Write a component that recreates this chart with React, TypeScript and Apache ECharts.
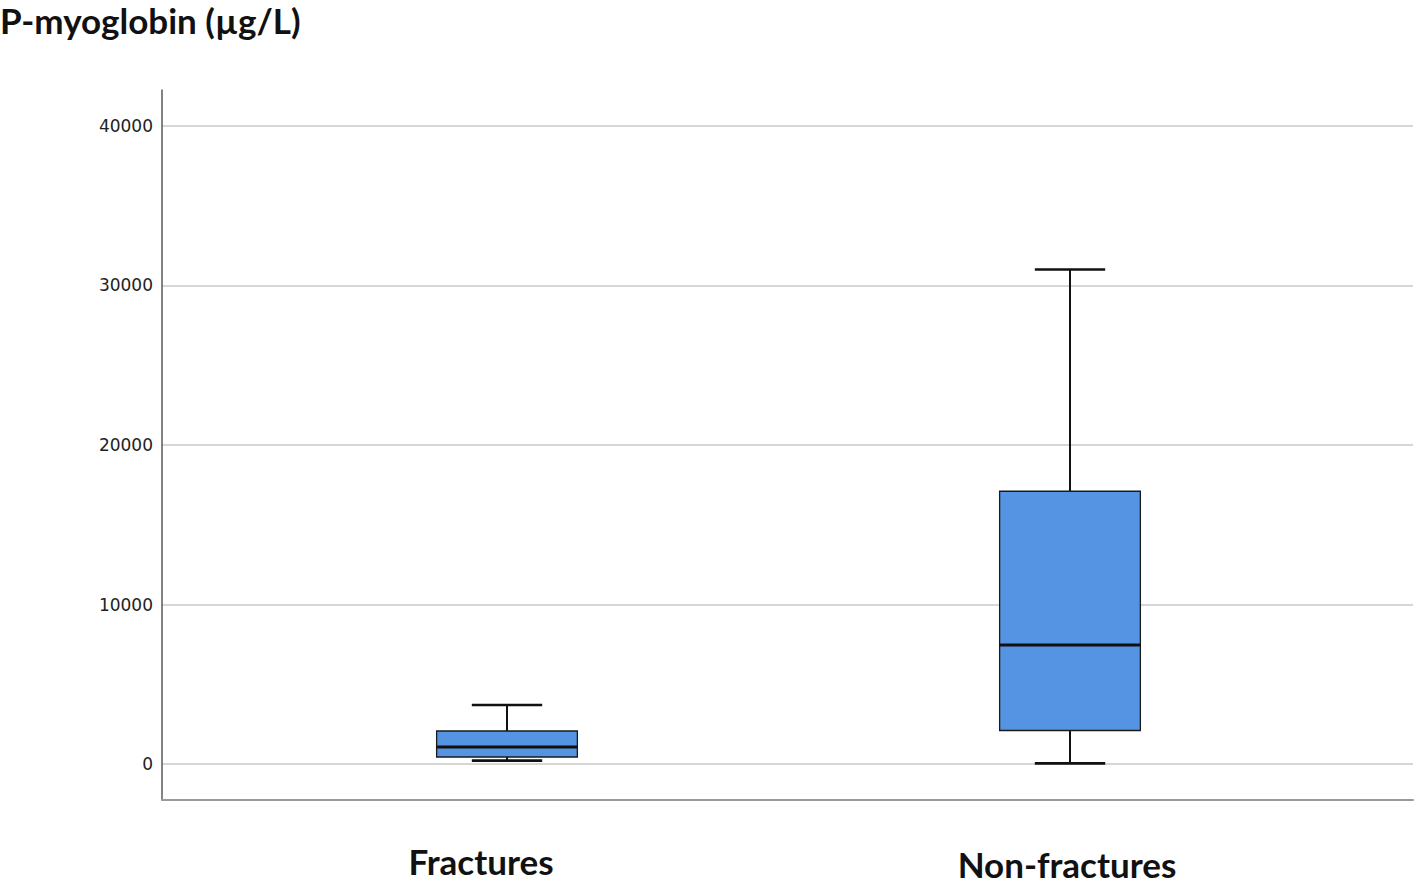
import React, { useEffect, useRef } from "react";
import * as echarts from "echarts";

const categories = ["Fractures", "Non-fractures"];
// [low whisker, Q1, median, Q3, high whisker]
const boxStats = [
  [210, 440, 1060, 2070, 3700],
  [40, 2100, 7460, 17100, 31000],
];
const yTicks = [0, 10000, 20000, 30000, 40000];
const yMin = -2257;
const yMax = 42257;
const titleText = "P-myoglobin (µg/L)";

const BIG_FONT = "Lato, 'Open Sans', sans-serif";

export default function App() {
  const ref = useRef<HTMLDivElement>(null);
  useEffect(() => {
    if (!ref.current) return;
    const chart = echarts.init(ref.current, null, { renderer: "svg" });
    const data = boxStats.map((s, i) => [i, ...s]);
    chart.setOption({
      animation: false,
      backgroundColor: "#ffffff",
      title: {
        text: titleText,
        left: 0,
        top: 2,
        padding: [0, 0, 0, 0],
        textStyle: { fontFamily: BIG_FONT, fontWeight: "bold", fontSize: 35, lineHeight: 36, color: "#111" },
      },
      grid: [
        { left: 162, right: 5, top: 90, bottom: 83, outerBoundsMode: "none", containLabel: false },
        { left: 225.5, right: 66.5, top: 90, bottom: 83, outerBoundsMode: "none", containLabel: false },
      ],
      xAxis: [
        {
          type: "value",
          gridIndex: 0,
          min: 0,
          max: 1,
          axisLine: { show: true, onZero: false, lineStyle: { color: "#9a9a9a", width: 2 } },
          axisTick: { show: false },
          axisLabel: { show: false },
          splitLine: { show: false },
        },
        {
          type: "category",
          gridIndex: 1,
          data: categories,
          axisLine: { show: false, onZero: false },
          axisTick: { show: false },
          splitLine: { show: false },
          axisLabel: {
            margin: 44,
            formatter: (v: string) => (v === categories[0] ? `{a|${v}}` : `{b|${v}}`),
            rich: {
              a: { fontFamily: BIG_FONT, fontWeight: "bold", fontSize: 35, lineHeight: 34, color: "#111", padding: [0, 52, 0, 0] },
              b: { fontFamily: BIG_FONT, fontWeight: "bold", fontSize: 35, lineHeight: 34, color: "#111", padding: [5, 6, 0, 0] },
            },
          },
        },
      ],
      yAxis: [
        {
          type: "value",
          gridIndex: 0,
          min: yMin,
          max: yMax,
          axisLine: { show: true, onZero: false, lineStyle: { color: "#5a5a5a", width: 1.5 } },
          axisTick: { show: false, customValues: yTicks },
          axisLabel: {
            customValues: yTicks,
            margin: 9,
            formatter: (v: number) => String(v),
            fontFamily: "'DejaVu Sans', sans-serif",
            fontSize: 17,
            color: "#222",
          },
          splitLine: { show: true, lineStyle: { color: "#c8c8c8", width: 1.5 } },
        },
        {
          type: "value",
          gridIndex: 1,
          min: yMin,
          max: yMax,
          show: false,
          splitLine: { show: false },
        },
      ],
      series: [
        {
          type: "custom",
          xAxisIndex: 1,
          yAxisIndex: 1,
          encode: { x: 0, y: [1, 2, 3, 4, 5] },
          data,
          renderItem: (params: any, api: any) => {
            const idx = api.value(0);
            const low = api.coord([idx, api.value(1)]);
            const q1 = api.coord([idx, api.value(2)]);
            const med = api.coord([idx, api.value(3)]);
            const q3 = api.coord([idx, api.value(4)]);
            const high = api.coord([idx, api.value(5)]);
            const bw = api.size([1, 0])[0] * 0.25;
            const cx = low[0];
            const half = bw / 2;
            const capHalf = bw / 4;
            const dark = "#111";
            return {
              type: "group",
              children: [
                { type: "line", shape: { x1: cx, y1: q3[1], x2: cx, y2: high[1] }, style: { stroke: dark, lineWidth: 2 } },
                { type: "line", shape: { x1: cx, y1: q1[1], x2: cx, y2: low[1] }, style: { stroke: dark, lineWidth: 2 } },
                { type: "line", shape: { x1: cx - capHalf, y1: high[1], x2: cx + capHalf, y2: high[1] }, style: { stroke: dark, lineWidth: 2.6 } },
                { type: "line", shape: { x1: cx - capHalf, y1: low[1], x2: cx + capHalf, y2: low[1] }, style: { stroke: dark, lineWidth: 2.6 } },
                {
                  type: "rect",
                  shape: { x: cx - half, y: q3[1], width: bw, height: q1[1] - q3[1] },
                  style: { fill: "#5494e2", stroke: "#1a1a1a", lineWidth: 1.3 },
                },
                { type: "line", shape: { x1: cx - half, y1: med[1], x2: cx + half, y2: med[1] }, style: { stroke: dark, lineWidth: 3 } },
              ],
            };
          },
        },
      ],
    });
    return () => chart.dispose();
  }, []);
  return <div ref={ref} style={{ position: "fixed", left: 0, top: 0, width: 1418, height: 883 }} />;
}
